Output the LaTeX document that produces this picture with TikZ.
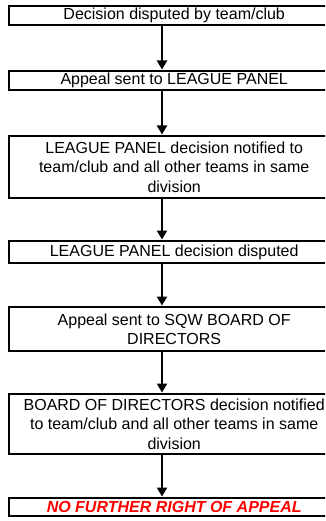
\documentclass[tikz,border=0pt]{standalone}
\usepackage{fontspec}
\setmainfont{Liberation Sans}
\usetikzlibrary{arrows.meta}
\definecolor{alertred}{RGB}{255,0,0}
\begin{document}
\begin{tikzpicture}[x=1pt,y=-1pt,
  flowbox/.style={draw=black, line width=2.4pt, anchor=north west, minimum width=330pt,
    inner sep=0pt, align=center, font=\fontsize{16}{19.5}\selectfont},
  flowarrow/.style={draw=black, line width=2.4pt, -{Triangle[length=9pt,width=10pt]}, shorten >=0.5pt}]
\useasboundingbox (0,0) rectangle (325,521);
\clip (0,0) rectangle (325,521);
\node[flowbox, minimum height=19pt] (b1) at (8,5) {Decision disputed by team/club};
\node[flowbox, minimum height=19pt] (b2) at (8,70) {Appeal sent to LEAGUE PANEL};
\node[flowbox, minimum height=62pt] (b3) at (8,135) {LEAGUE PANEL decision notified to\\team/club and all other teams in same\\division};
\node[flowbox, minimum height=22pt] (b4) at (8,240) {LEAGUE PANEL decision disputed};
\node[flowbox, minimum height=44pt] (b5) at (8,306) {Appeal sent to SQW BOARD OF\\DIRECTORS};
\node[flowbox, minimum height=60pt] (b6) at (8,393) {BOARD OF DIRECTORS decision notified\\to team/club and all other teams in same\\division};
\node[flowbox, minimum height=18pt, text=alertred, font=\fontsize{16}{19.5}\selectfont\bfseries\itshape] (b7) at (8,497) {NO FURTHER RIGHT OF APPEAL};
\coordinate (ax) at (162,0);
\draw[flowarrow] (b1.south -| ax) -- (b2.north -| ax);
\draw[flowarrow] (b2.south -| ax) -- (b3.north -| ax);
\draw[flowarrow] (b3.south -| ax) -- (b4.north -| ax);
\draw[flowarrow] (b4.south -| ax) -- (b5.north -| ax);
\draw[flowarrow] (b5.south -| ax) -- (b6.north -| ax);
\draw[flowarrow] (b6.south -| ax) -- (b7.north -| ax);
\end{tikzpicture}
\end{document}
